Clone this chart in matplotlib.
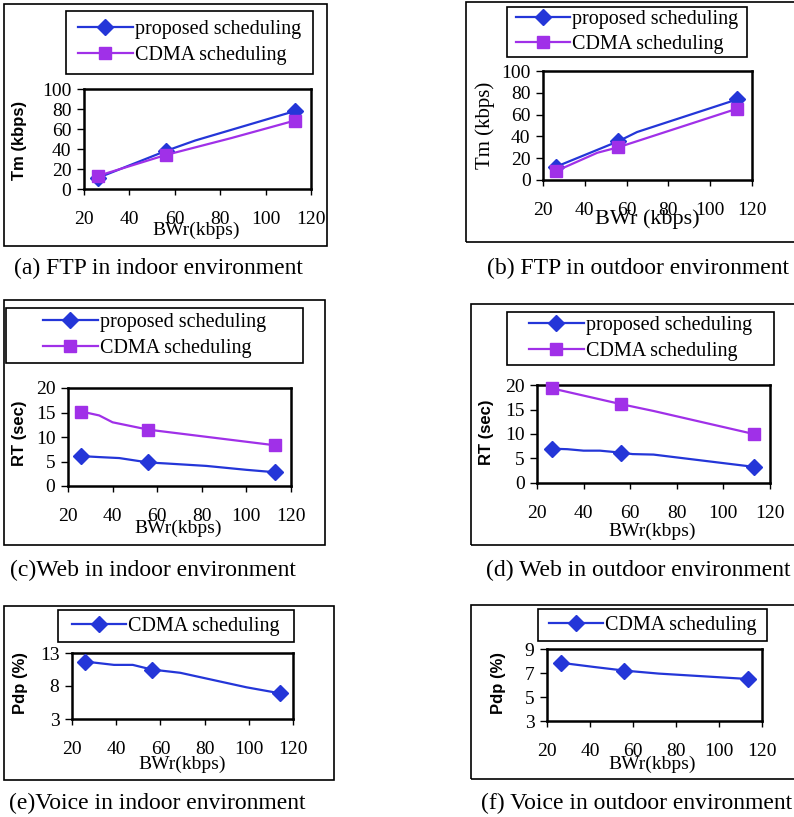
import matplotlib
matplotlib.use("Agg")
import matplotlib.pyplot as plt
from matplotlib.patches import Rectangle
from matplotlib.lines import Line2D

W, H = 794, 817
BLUE = '#2436d8'
PURPLE = '#a030e8'

# (a) FTP indoor
a_prop_x = [26, 56, 69, 113]
a_prop_y = [11, 38, 48.5, 78]
a_cdma_x = [26, 56, 85, 113]
a_cdma_y = [13, 34, 51, 68.5]

# (b) FTP outdoor
b_prop_x = [26, 56, 65, 113]
b_prop_y = [12, 35.5, 44, 74]
b_cdma_x = [26, 46, 56, 113]
b_cdma_y = [8, 25, 30, 65.5]

# (c) Web indoor
c_prop_x = [26, 34, 43, 56, 64, 82, 100, 113]
c_prop_y = [6.1, 5.9, 5.7, 4.8, 4.6, 4.1, 3.3, 2.8]
c_cdma_x = [26, 34, 40, 56, 113]
c_cdma_y = [15.2, 14.4, 13.0, 11.5, 8.3]

# (d) Web outdoor
d_prop_x = [26.5, 33, 40, 47, 56, 61, 70, 113]
d_prop_y = [7.0, 6.9, 6.6, 6.6, 6.2, 5.9, 5.8, 3.3]
d_cdma_x = [26.5, 56, 70, 113]
d_cdma_y = [19.3, 16.1, 14.7, 10.0]

# (e) Voice indoor
e_x = [26, 39, 47.5, 56, 69, 99, 114]
e_y = [11.7, 11.2, 11.2, 10.5, 10.0, 7.8, 6.9]

# (f) Voice outdoor
f_x = [26.5, 42, 56, 72, 113.5]
f_y = [7.85, 7.5, 7.2, 6.95, 6.5]

marked_x = [26, 56, 113]
x_ticks = [20, 40, 60, 80, 100, 120]

SERIF = 'Liberation Serif'
SANS = 'Liberation Sans'

fig = plt.figure(figsize=(W / 100, H / 100), dpi=100)


def frac(x0, y0, x1, y1):
    return [x0 / W, 1 - y1 / H, (x1 - x0) / W, (y1 - y0) / H]


def marks(xs):
    # only the simulated points carry a marker
    return [i for i, v in enumerate(xs) if any(abs(v - m) <= 1.5 for m in marked_x)]


def box(x0, y0, x1, y1, lw=1.2):
    fig.patches.append(Rectangle((x0 / W, 1 - y1 / H), (x1 - x0) / W, (y1 - y0) / H,
                                 transform=fig.transFigure, fill=False,
                                 edgecolor='black', linewidth=lw))


def panel(outer, leg, plot, series, yticks, ylabel, ylab_xy, ylab_serif, xlab, xlab_y,
          caption, cap_x, cap_y):
    box(*outer)
    box(*leg)
    ax = fig.add_axes(frac(*plot))
    handles = []
    for xs, ys, color, mk, ms, name in series:
        ax.plot(xs, ys, color=color, lw=1.6, marker=mk, markersize=ms,
                markevery=marks(xs), clip_on=False, zorder=3)
        handles.append(Line2D([], [], color=color, lw=1.6, marker=mk, markersize=ms, label=name))
    ax.set_xlim(20, 120)
    ax.set_ylim(yticks[0], yticks[-1])
    ax.set_xticks(x_ticks)
    ax.set_yticks(yticks)
    for s in ax.spines.values():
        s.set_linewidth(1.8)
    ax.tick_params(axis='x', direction='out', length=4, width=1, pad=12, labelsize=14)
    ax.tick_params(axis='y', direction='out', length=5, width=1, pad=4, labelsize=14)
    for t in ax.get_xticklabels() + ax.get_yticklabels():
        t.set_fontfamily(SERIF)
    # x label
    ax.set_xlabel(xlab[0], fontfamily=SERIF, fontsize=xlab[1])
    x0, y0, x1, y1 = plot
    ax.xaxis.set_label_coords((xlab[2] - x0) / (x1 - x0), (y1 - xlab_y) / (y1 - y0))
    ax.xaxis.label.set_va('center')
    # y label
    if ylab_serif:
        ax.set_ylabel(ylabel, fontfamily=SERIF, fontsize=15)
    else:
        ax.set_ylabel(ylabel, fontfamily=SANS, fontweight='bold', fontsize=12)
    ax.yaxis.set_label_coords((ylab_xy[0] - x0) / (x1 - x0), (y1 - ylab_xy[1]) / (y1 - y0))
    ax.yaxis.label.set_va('center')
    # legend inside its box
    lx0, ly0, lx1, ly1 = leg
    fig.legend(handles=handles, loc='center', frameon=False,
               bbox_to_anchor=((lx0 + lx1) / 2 / W, 1 - (ly0 + ly1) / 2 / H),
               prop={'family': SERIF, 'size': 14.5}, handlelength=2.7,
               handletextpad=0.1, labelspacing=0.3, borderpad=0)
    fig.text(cap_x / W, 1 - cap_y / H, caption, family=SERIF, fontsize=17,
             ha='center', va='center')
    return ax


panel((4, 4, 327, 246), (66, 11, 313, 74), (84, 89, 311, 189),
      [(a_prop_x, a_prop_y, BLUE, 'D', 8, 'proposed scheduling'),
       (a_cdma_x, a_cdma_y, PURPLE, 's', 8.5, 'CDMA scheduling')],
      [0, 20, 40, 60, 80, 100], 'Tm (kbps)', (20, 140), False,
      ('BWr(kbps)', 14, 196), 230, '(a) FTP in indoor environment', 158, 268)

panel((466, 2, 800, 242), (507, 7, 747, 57), (543, 71, 752, 180),
      [(b_prop_x, b_prop_y, BLUE, 'D', 8, 'proposed scheduling'),
       (b_cdma_x, b_cdma_y, PURPLE, 's', 8.5, 'CDMA scheduling')],
      [0, 20, 40, 60, 80, 100], 'Tm (kbps)', (485, 125), True,
      ('BWr (kbps)', 16, 647), 219, '(b) FTP in outdoor environment', 638, 268)

panel((4, 300, 325, 545), (6, 308, 303, 363), (68, 388, 291, 486),
      [(c_prop_x, c_prop_y, BLUE, 'D', 8, 'proposed scheduling'),
       (c_cdma_x, c_cdma_y, PURPLE, 's', 8.5, 'CDMA scheduling')],
      [0, 5, 10, 15, 20], 'RT (sec)', (20, 433), False,
      ('BWr(kbps)', 14, 178), 528, '(c)Web in indoor environment', 153, 570)

panel((471, 304, 800, 545), (507, 312, 774, 365), (537, 385, 770, 483),
      [(d_prop_x, d_prop_y, BLUE, 'D', 8, 'proposed scheduling'),
       (d_cdma_x, d_cdma_y, PURPLE, 's', 8.5, 'CDMA scheduling')],
      [0, 5, 10, 15, 20], 'RT (sec)', (486, 432), False,
      ('BWr(kbps)', 14, 652), 531, '(d) Web in outdoor environment', 638, 570)

panel((4, 606, 334, 780), (58, 610, 294, 642), (72, 653, 293, 719),
      [(e_x, e_y, BLUE, 'D', 8, 'CDMA scheduling')],
      [3, 8, 13], 'Pdp (%)', (20, 683), False,
      ('BWr(kbps)', 14, 182), 764, '(e)Voice in indoor environment', 157, 803)

panel((471, 605, 800, 779), (538, 609, 767, 641), (547, 649, 762, 721),
      [(f_x, f_y, BLUE, 'D', 8, 'CDMA scheduling')],
      [3, 5, 7, 9], 'Pdp (%)', (499, 683), False,
      ('BWr(kbps)', 14, 652), 764, '(f) Voice in outdoor environment', 637, 803)

fig.savefig('out.png', dpi=100)
